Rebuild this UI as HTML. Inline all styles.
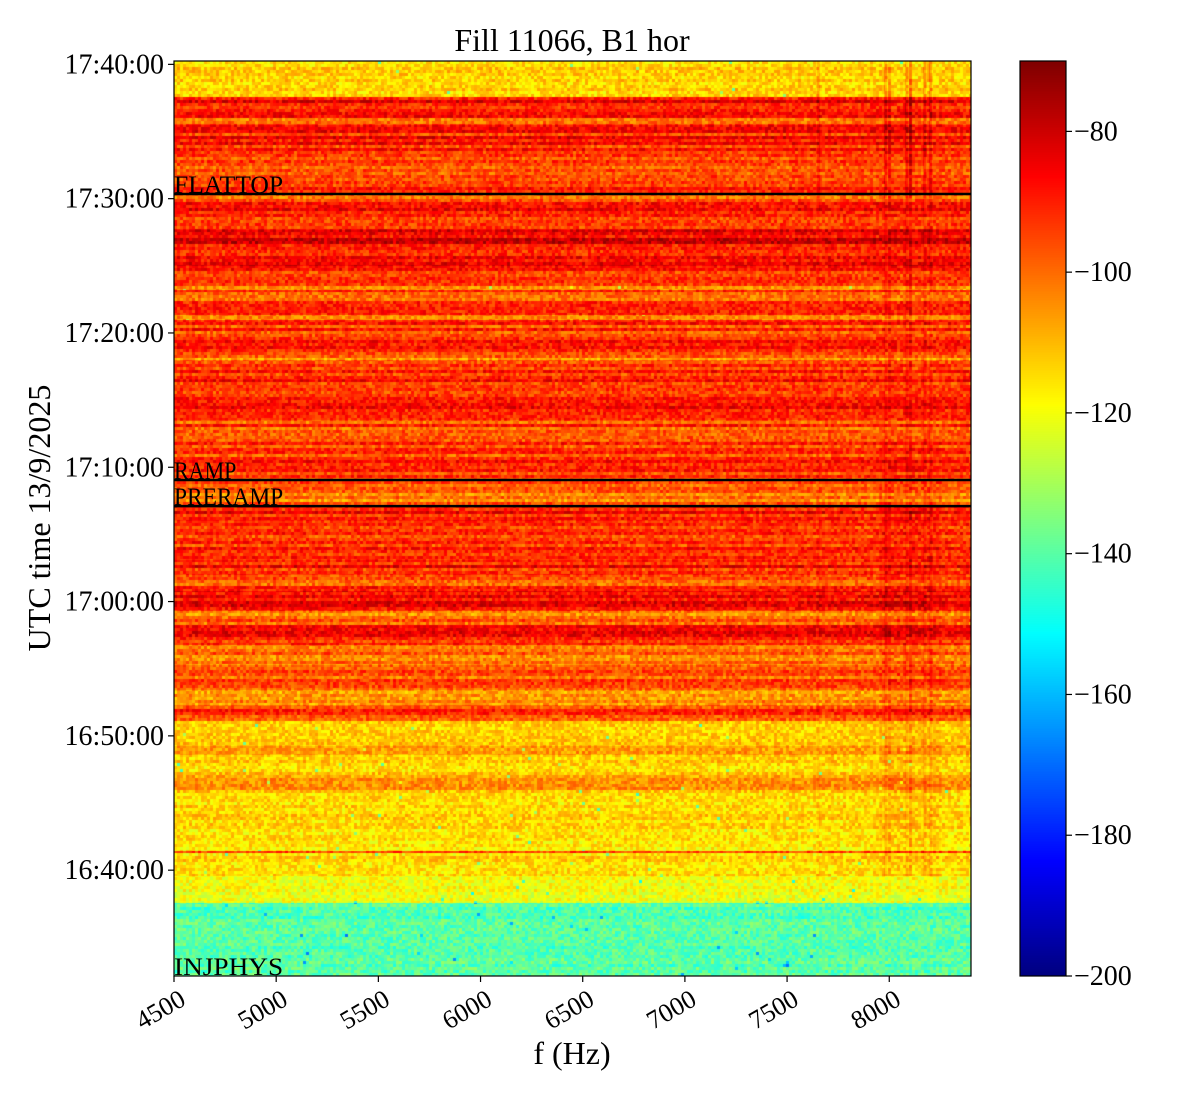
<!DOCTYPE html>
<html><head><meta charset="utf-8">
<style>
html,body{margin:0;padding:0;background:#fff;width:1200px;height:1100px;overflow:hidden}
#wrap{position:relative;width:1200px;height:1100px}
canvas,svg{position:absolute;left:0;top:0}
text{font-family:"Liberation Serif",serif;fill:#000}
</style></head>
<body>
<div id="wrap">
<canvas id="hm" width="1200" height="1100"></canvas>
<svg id="ax" width="1200" height="1100"></svg>
</div>
<script>
// ---- data ----
const segStart = [0,5.44,7.52,9.23,9.38,10.13,13.85,14.97,16.46,17.20,19.06,20.18,21.30,23.16,24.65,26.14,27.25,28.74,29.86,30.98,33.95,34.99,36.93,39.91,41.40,44.38,45.87,46.24,48.85,49.22,51.08,51.45,52.94,55.55,57.86,58.23,59.64,61.88,62.62,63.37,63.89,65.45];
const segLevel = [-141,-121,-114,-88,-116,-114,-106,-113,-107,-112,-93,-101,-95,-101,-89,-99,-88,-95,-89,-93,-89,-99,-93,-95,-90,-93,-103,-93,-105,-95,-107,-91,-85,-89,-99,-93,-93,-87,-89,-95,-87,-113];
const markerNames = ["FLATTOP","RAMP","PRERAMP","INJPHYS"];
const markerTimes = [58.23,36.93,34.99,0.0];   // minutes after 16:32:07
const vLineFreqs = [7650,7980,8000,8080,8100,8170,8200];
const vLineBoost = [4,6,6,5,9,5,6];
const xTicks = [4500,5000,5500,6000,6500,7000,7500,8000];
const yTickLabels = ["16:40:00","16:50:00","17:00:00","17:10:00","17:20:00","17:30:00","17:40:00"];
const yTickMins = [7.88,17.88,27.88,37.88,47.88,57.88,67.88];
const cbTicks = [-80,-100,-120,-140,-160,-180,-200];

// ---- axes functions ----
const X0=174,X1=971,Y0=61,Y1=976;
const fMin=4500,fMax=8400,tMax=68.13;
const xs=f=>X0+(f-fMin)/(fMax-fMin)*(X1-X0);
const ys=t=>Y1-t/tMax*(Y1-Y0);
const vMin=-200,vMax=-70;
const CB0=1020,CB1=1066;
const cs=v=>Y1-(v-vMin)/(vMax-vMin)*(Y1-Y0);

function jet(v){
  let x=(v-vMin)/(vMax-vMin); x=Math.max(0,Math.min(1,x));
  const r=Math.max(0,Math.min(1,1.5-Math.abs(4*x-3)));
  const g=Math.max(0,Math.min(1,1.5-Math.abs(4*x-2)));
  const b=Math.max(0,Math.min(1,1.5-Math.abs(4*x-1)));
  return [r*255|0,g*255|0,b*255|0];
}
function hash(a,b){let h=(a*374761393+b*668265263)|0;h=(h^(h>>>13))*1274126177|0;h=h^(h>>>16);return ((h>>>0)%10000)/10000;}
function levelAt(t){let l=segLevel[0];for(let i=0;i<segStart.length;i++){if(t>=segStart[i])l=segLevel[i];}return l;}

// ---- heatmap ----
const cv=document.getElementById('hm'),ctx=cv.getContext('2d');
const img=ctx.createImageData(X1-X0,Y1-Y0);
const rowH=3,colW=3;
for(let py=0;py<Y1-Y0;py++){
  const row=Math.floor(py/rowH);
  const t=(Y1-Y0-py)/(Y1-Y0)*tMax;
  const base=levelAt(t);
  const hot=base>-104;
  const stripe=(hash(row,7)-0.5)*(hot?14:5);
  for(let px=0;px<X1-X0;px++){
    const col=Math.floor(px/colW);
    const f=fMin+px/(X1-X0)*(fMax-fMin);
    const n=hash(row,col);
    let v=base+stripe+(n-0.5)*(hot?16:14)+(hot&&n>0.93?8:0)*-1;
    if(!hot && hash(col,row+999)>0.995) v-=22;
    for(let k=0;k<vLineFreqs.length;k++){
      if(Math.abs(f-vLineFreqs[k])<7 && t>7.5) v+=vLineBoost[k]*(t>58?1.4:0.6);
    }
    if(f>7950 && f<8250 && t>7.5 && t<40) v+=2;
    const c=jet(v);const i=(py*(X1-X0)+px)*4;
    img.data[i]=c[0];img.data[i+1]=c[1];img.data[i+2]=c[2];img.data[i+3]=255;
  }
}
ctx.putImageData(img,X0,Y0);
// colorbar
for(let py=Y0;py<Y1;py++){
  const v=vMax-(py-Y0)/(Y1-Y0)*(vMax-vMin);const c=jet(v);
  ctx.fillStyle=`rgb(${c[0]},${c[1]},${c[2]})`;ctx.fillRect(CB0,py,CB1-CB0,1);
}

// ---- svg axes ----
const NS='http://www.w3.org/2000/svg',svg=document.getElementById('ax');
function mk(tag,attrs,txt){const e=document.createElementNS(NS,tag);for(const k in attrs)e.setAttribute(k,attrs[k]);if(txt!==undefined)e.textContent=txt;svg.appendChild(e);return e;}
markerTimes.forEach((t,i)=>{
  const y=ys(t);
  if(t>0){const l=mk('line',{x1:X0,x2:X1,y1:y,y2:y,stroke:'#000','stroke-width':2.5});
  
  }
  const tx=mk('text',{x:X0,y:y-1,'font-size':25,textLength:markerNames[i].length*15.6,lengthAdjust:'spacingAndGlyphs'},markerNames[i]);
  
  
});
let fr=mk('rect',{x:X0,y:Y0,width:X1-X0,height:Y1-Y0,fill:'none',stroke:'#000','stroke-width':1.2});

let cfr=mk('rect',{x:CB0,y:Y0,width:CB1-CB0,height:Y1-Y0,fill:'none',stroke:'#000','stroke-width':1.2});

xTicks.forEach(f=>{
  const x=xs(f);
  const tk=mk('line',{x1:x,x2:x,y1:Y1,y2:Y1+6,stroke:'#000','stroke-width':1.2});
  
  const tl=mk('text',{x:x+4,y:Y1+12,'font-size':26,'text-anchor':'end',transform:`rotate(-30 ${x+4} ${Y1+12})`,'dominant-baseline':'hanging'},String(f));
  
});
yTickMins.forEach((t,i)=>{
  const y=ys(t);
  const tk=mk('line',{x1:X0-6,x2:X0,y1:y,y2:y,stroke:'#000','stroke-width':1.2});
  
  const tl=mk('text',{x:X0-10,y:y+9,'font-size':28,'text-anchor':'end'},yTickLabels[i]);
  
});
cbTicks.forEach(v=>{
  const y=cs(v);
  const tk=mk('line',{x1:CB1,x2:CB1+6,y1:y,y2:y,stroke:'#000','stroke-width':1.2});
  
  const tl=mk('text',{x:CB1+8,y:y+9,'font-size':28},'\u2212'+Math.abs(v));
  
});
let ti=mk('text',{x:572,y:51,'font-size':32,'text-anchor':'middle'},'Fill 11066, B1 hor');

let xl=mk('text',{x:572,y:1064,'font-size':32,'text-anchor':'middle'},'f (Hz)');

let yl=mk('text',{x:50,y:518,'font-size':32,'text-anchor':'middle',transform:'rotate(-90 50 518)'},'UTC time 13/9/2025');

</script>
</body></html>
